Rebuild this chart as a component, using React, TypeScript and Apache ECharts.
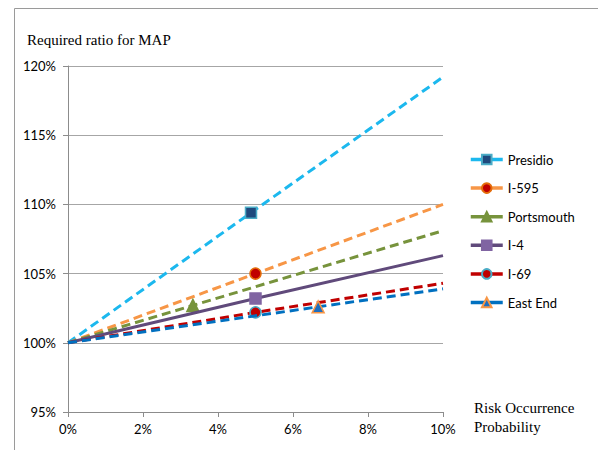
import React, { useEffect, useRef } from "react";
import * as echarts from "echarts";

// Risk occurrence probability (%) where each scenario is evaluated
const seriesNames = ["Presidio", "I-595", "Portsmouth", "I-4", "I-69", "East End"];
const markerX = [4.88, 5, 3.33, 5, 5, 6.67];
// Required ratio (%) at the marked probability
const markerY = [109.4, 105.0, 102.7, 103.2, 102.2, 102.6];
// Required ratio (%) at 10% probability
const endY = [119.2, 110.0, 108.1, 106.3, 104.3, 103.9];
const startX = 0;
const endX = 10;
const baseY = 100;

const yTicks = [95, 100, 105, 110, 115, 120];
const xTicks = [0, 2, 4, 6, 8, 10];

const lineColors = ["#1CB8EE", "#F79646", "#77933C", "#604A7B", "#C00000", "#0070C0"];
const lineTypes: any[] = [[9, 5], [9, 5], [9, 5], "solid", [9, 5], [9, 5]];
const symbols = ["rect", "circle", "triangle", "rect", "circle", "triangle"];
const symbolFill = ["#1F497D", "#C00000", "#77933C", "#8064A2", "#C00000", "#1F6FC0"];
const symbolBorder = ["#4BACC6", "#E46C0A", "#77933C", "#8064A2", "#4BACC6", "#F79646"];

const FONT = "Lato";

export default function App() {
  const ref = useRef<HTMLDivElement>(null);
  useEffect(() => {
    if (!ref.current) return;
    const chart = echarts.init(ref.current, null, { renderer: "svg" });
    const series = seriesNames.map((name, i) => ({
      name,
      type: "line",
      symbol: symbols[i],
      symbolSize: symbols[i] === "triangle" ? 12 : 11,
      z: 2 + i,
      lineStyle: { color: lineColors[i], width: 3, type: lineTypes[i] },
      itemStyle: { color: symbolFill[i], borderColor: symbolBorder[i], borderWidth: 1.5 },
      emphasis: { disabled: true },
      data: [
        { value: [startX, baseY], symbol: "none" },
        { value: [markerX[i], markerY[i]] },
        { value: [endX, endY[i]], symbol: "none" },
      ],
    }));
    chart.setOption({
      animation: false,
      backgroundColor: "#ffffff",
      textStyle: { fontFamily: FONT },
      grid: { left: 68, right: 155, top: 66, bottom: 38 },
      xAxis: {
        type: "value",
        min: xTicks[0],
        max: xTicks[xTicks.length - 1],
        interval: 2,
        axisLine: { lineStyle: { color: "#8c8c8c", width: 1 } },
        axisTick: { show: true, length: 5, lineStyle: { color: "#8c8c8c" } },
        splitLine: { show: false },
        axisLabel: { color: "#000", fontSize: 13, fontFamily: FONT, margin: 10, formatter: (v: number) => v + "%" },
      },
      yAxis: {
        type: "value",
        min: yTicks[0],
        max: yTicks[yTicks.length - 1],
        interval: 5,
        axisLine: { show: true, lineStyle: { color: "#8c8c8c", width: 1 } },
        axisTick: { show: true, length: 5, lineStyle: { color: "#8c8c8c" } },
        splitLine: { show: true, lineStyle: { color: "#a6a6a6", width: 1 } },
        axisLabel: { color: "#000", fontSize: 13, fontFamily: FONT, margin: 12, formatter: (v: number) => v + "%" },
      },
      legend: {
        orient: "vertical",
        left: 464,
        top: 148,
        itemWidth: 32,
        itemHeight: 12,
        itemGap: 15.6,
        lineStyle: { type: "solid", width: 3.5 },
        textStyle: { color: "#000", fontSize: 13, fontFamily: FONT },
        data: seriesNames,
      },
      graphic: [
        {
          type: "rect",
          silent: true,
          shape: { x: 14.5, y: 8.5, width: 700, height: 600 },
          style: { fill: "none", stroke: "#9a9a9a", lineWidth: 1 },
        },
        {
          type: "text",
          left: 27,
          top: 32,
          style: { text: "Required ratio for MAP", fontFamily: "Liberation Serif", fontSize: 15, fill: "#000" },
        },
        {
          type: "text",
          left: 474,
          top: 398,
          style: {
            text: "Risk Occurrence\nProbability",
            fontFamily: "Liberation Serif",
            fontSize: 15,
            lineHeight: 19,
            fill: "#000",
          },
        },
      ],
      series,
    });
    return () => chart.dispose();
  }, []);
  return <div ref={ref} style={{ position: "fixed", left: 0, top: 0, width: 598, height: 450 }} />;
}
